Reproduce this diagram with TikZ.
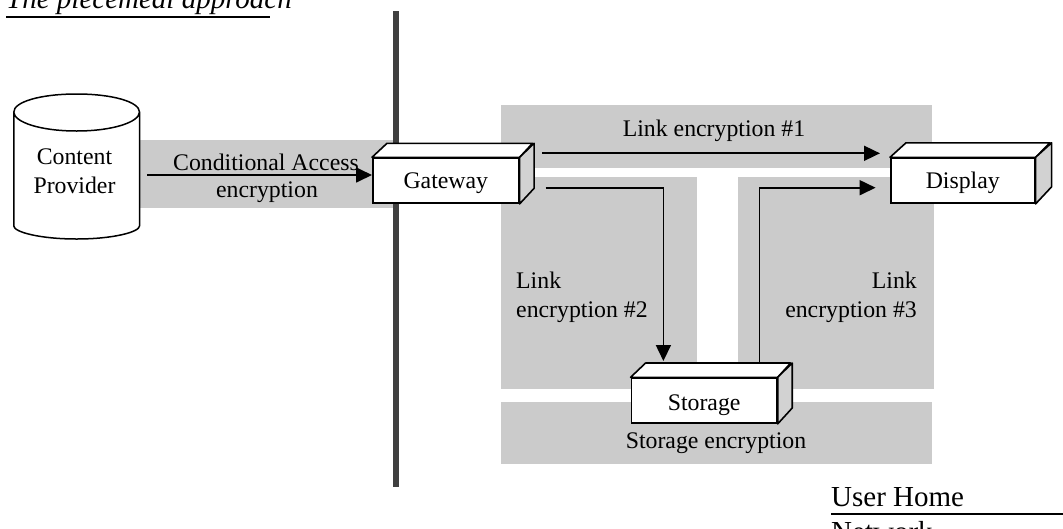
\documentclass[tikz,border=0pt]{standalone}
\usepackage{fontspec}
\setmainfont{Liberation Serif}
\usetikzlibrary{arrows.meta}
\tikzset{
  x=1pt,y=-1pt,
  lbl/.style={font=\fontsize{23.8}{29}\selectfont,anchor=base,inner sep=0pt,align=center},
  big/.style={font=\fontsize{29}{36}\selectfont,anchor=base west,inner sep=0pt},
  flow/.style={line width=1.7pt,-{Triangle[length=16pt,width=15pt]}},
  rule/.style={line width=2pt},
  boxfront/.style={draw,fill=white,line width=1.6pt,minimum width=#1,minimum height=45pt,inner sep=0pt,font=\fontsize{23.8}{29}\selectfont,text depth=3.4pt,text height=20pt},
  boxedge/.style={line width=1.6pt,line join=round},
}
\definecolor{panelgray}{HTML}{CBCBCB}
\definecolor{bardark}{HTML}{404040}
\definecolor{sidegray}{HTML}{D2D2D2}
\begin{document}
\begin{tikzpicture}
\useasboundingbox (0,0) rectangle (1063,528);
\clip (0,0) rectangle (1063,528);
% grey zones
\fill[panelgray] (139.5,140) rectangle (394,208);
\fill[panelgray] (501,105) rectangle (932,168);
\fill[panelgray] (501,177) rectangle (697,389);
\fill[panelgray] (738,177) rectangle (934,389);
\fill[panelgray] (501,402) rectangle (932,464);
% divider
\fill[bardark] (393,11) rectangle (399,487);
% cylinder
\draw[line width=1.5pt,fill=white,line join=round]
  (13.8,112) -- (13.8,226) .. controls (13.8,232) and (40,239) .. (76.6,239)
  .. controls (113,239) and (139.5,232) .. (139.5,226) -- (139.5,112)
  .. controls (139.5,102) and (113,94) .. (76.6,94)
  .. controls (40,94) and (13.8,102) .. (13.8,112)
  .. controls (13.8,122) and (40,131) .. (76.6,131)
  .. controls (113,131) and (139.5,122) .. (139.5,112);
\node[lbl] (cp) at (74.5,164.5) {Content};
\node[lbl] (cp2) at (74.5,193) {Provider};
% boxes
\node[boxfront=146pt,anchor=north west] (gw) at (372,157.3) {Gateway};
\draw[boxedge,fill=white] (gw.north west) -- ++(15,-14) -- ++(145.5,0) -- (gw.north east) -- cycle;
\draw[boxedge,fill=sidegray] (gw.north east) -- ++(14.5,-14) -- ++(0,45) -- (gw.south east) -- cycle;
\node[boxfront=144pt,anchor=north west] (disp) at (890,157.3) {Display};
\draw[boxedge,fill=white] (disp.north west) -- ++(16,-14.5) -- ++(144,0) -- (disp.north east) -- cycle;
\draw[boxedge,fill=sidegray] (disp.north east) -- ++(16,-14.5) -- ++(0,44) -- (disp.south east) -- cycle;
\node[boxfront=145.5pt,anchor=north west,text height=23pt,text depth=2.4pt] (stor) at (630.6,377.3) {Storage};
\draw[boxedge,fill=white] (stor.north west) -- ++(15,-14.3) -- ++(145,0) -- (stor.north east) -- cycle;
\draw[boxedge,fill=sidegray] (stor.north east) -- ++(14.5,-14.3) -- ++(0,45) -- (stor.south east) -- cycle;
% connectors
\coordinate (casrc) at (147.4,175);
\draw[flow] (casrc) -- (gw.west |- casrc);
\coordinate (l1a) at (542,153.3);
\coordinate (l1b) at (880,153.3);
\draw[flow] (l1a) -- (l1b);
\coordinate (l2a) at (545.6,187.7);
\coordinate (l2t) at (663.4,187.7);
\coordinate (l2b) at (663.4,361);
\draw[flow] (l2a) -- (l2t) -- (l2b);
\coordinate (l3a) at (759.6,363);
\coordinate (l3t) at (759.6,187.7);
\coordinate (l3b) at (875.6,187.7);
\draw[flow] (l3a) -- (l3t) -- (l3b);
% labels
\node[lbl] (ca1) at (266,170) {Conditional Access};
\node[lbl] (ca2) at (267,197) {encryption};
\node[lbl] (l1) at (714,136.5) {Link encryption \#1};
\node[lbl,anchor=base west] (l2x) at (516,288) {Link};
\node[lbl,anchor=base west] (l2y) at (516,317) {encryption \#2};
\node[lbl,anchor=base east] (l3x) at (917,288) {Link};
\node[lbl,anchor=base east] (l3y) at (917,317) {encryption \#3};
\node[lbl] (se) at (716,448) {Storage encryption};
% captions
\node[big,font=\fontsize{29}{36}\selectfont\itshape] (title) at (6,8) {The piecemeal approach};
\draw[rule] (6,16.5) -- (270,16.5);
\node[big] (uh) at (831,506.7) {User Home};
\draw[rule] (831,513.7) -- (1063,513.7);
\node[big] (net) at (831,541) {Network};
\end{tikzpicture}
\end{document}
